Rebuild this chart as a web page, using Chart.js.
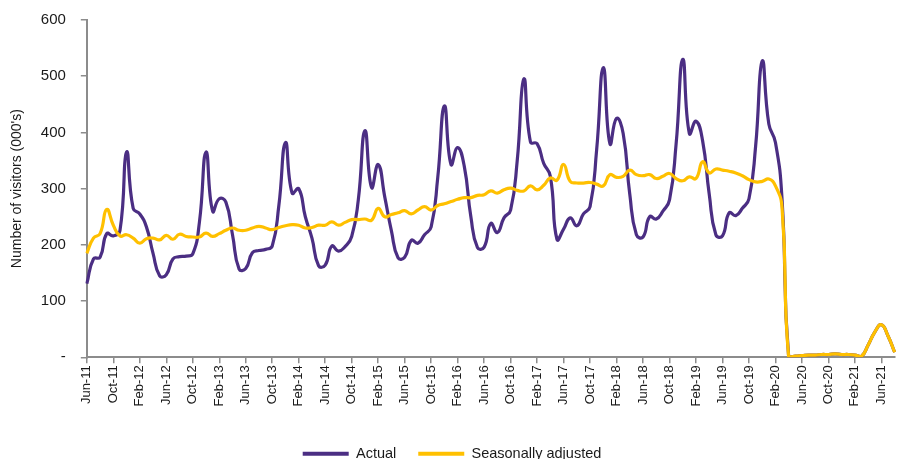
<!DOCTYPE html>
<html>
<head>
  <title>Visitors</title>
  <script src="https://cdn.jsdelivr.net/npm/chart.js"></script>
  <style>
    body { margin: 0; background: #fff; overflow: hidden; }
    #wrap { width: 899px; height: 475px; margin-top: -4px; }
  </style>
</head>
<body>
  <div id="wrap"><canvas id="myChart"></canvas></div>

  <script>
    // monthly labels Jun-11 .. Aug-21
    const monthNames = ['Jan', 'Feb', 'Mar', 'Apr', 'May', 'Jun', 'Jul', 'Aug', 'Sep', 'Oct', 'Nov', 'Dec'];
    const labels = [];
    for (let i = 0; i < 123; i++) {
      const m = (5 + i) % 12;
      const y = 11 + Math.floor((5 + i) / 12);
      labels.push(monthNames[m] + '-' + y);
    }

    // visitors, 000's
    const actual = [
      131, 175, 178, 220, 216, 225, 365, 265, 255, 232, 185, 145,
      147, 175, 179, 180, 184, 240, 365, 260, 282, 276, 218, 157,
      158, 186, 190, 192, 198, 270, 382, 292, 300, 250, 212, 163,
      164, 198, 189, 197, 215, 280, 403, 302, 343, 285, 225, 177,
      178, 208, 203, 218, 232, 320, 447, 343, 373, 340, 250, 195,
      196, 238, 222, 248, 262, 350, 495, 383, 380, 345, 322, 210,
      228, 248, 234, 255, 268, 370, 515, 380, 425, 398, 290, 218,
      214, 250, 246, 260, 280, 380, 530, 398, 420, 385, 290, 218,
      216, 257, 252, 265, 282, 375, 527, 415, 382, 280, 0, 2,
      3, 4, 4, 5, 5, 6, 5, 5, 4, 2, 22, 45,
      58, 38, 9
    ];
    const seasonallyAdjusted = [
      185, 212, 220, 263, 235, 216, 218, 212, 203, 211, 212, 209,
      217, 210, 219, 215, 214, 214, 221, 215, 220, 226, 230, 226,
      226, 230, 233, 230, 227, 231, 234, 236, 235, 230, 231, 235,
      235, 241, 235, 240, 245, 245, 246, 244, 265, 250, 254, 257,
      261, 255, 262, 268, 262, 270, 273, 277, 281, 284, 284, 288,
      289, 296, 292, 298, 301, 297, 296, 305, 298, 306, 319, 315,
      343, 313, 310, 310, 311, 308, 305, 325, 320, 322, 333, 325,
      323, 325, 318, 322, 327, 318, 314, 321, 318, 348, 328, 335,
      333, 331, 328, 323, 316, 312, 313, 317, 305, 265, 0, 2,
      3, 4, 4, 5, 5, 6, 5, 5, 4, 2, 22, 45,
      58, 38, 9
    ];
    const yTicks = [0, 100, 200, 300, 400, 500, 600];

    const purple = '#4b2e83';
    const gold = '#ffc000';
    const axisGrey = '#8c8c8c';

    Chart.defaults.font.family = '"Liberation Sans", Arial, sans-serif';
    Chart.defaults.font.size = 13;
    Chart.defaults.color = '#1a1a1a';

    const ctx = document.getElementById('myChart').getContext('2d');
    new Chart(ctx, {
      type: 'line',
      data: {
        labels,
        datasets: [{
          label: 'Actual',
          data: actual,
          borderColor: purple,
          backgroundColor: purple,
          borderWidth: 3.2,
          pointRadius: 0,
          tension: 0.5,
          order: 1
        }, {
          label: 'Seasonally adjusted',
          data: seasonallyAdjusted,
          borderColor: gold,
          backgroundColor: gold,
          borderWidth: 3.2,
          pointRadius: 0,
          tension: 0.5,
          order: 0
        }]
      },
      options: {
        responsive: true,
        maintainAspectRatio: false,
        animation: false,
        layout: { padding: { left: 5, right: 0, top: 12, bottom: 0 } },
        plugins: {
          legend: {
            position: 'bottom',
            labels: {
              boxWidth: 46,
              boxHeight: 4,
              padding: 22,
              font: { size: 14.5 },
              sort: (a, b) => a.datasetIndex - b.datasetIndex,
              generateLabels: chart => Chart.defaults.plugins.legend.labels.generateLabels(chart)
                .map(l => Object.assign(l, { lineWidth: 0 }))
            }
          },
          tooltip: { enabled: false }
        },
        scales: {
          x: {
            offset: false,
            border: { color: axisGrey, width: 2 },
            grid: { drawOnChartArea: false, drawTicks: true, tickLength: 6, color: axisGrey, lineWidth: 1.5 },
            ticks: {
              autoSkip: false,
              maxRotation: 90,
              minRotation: 90,
              padding: 2,
              callback: (v, i) => (i % 4 === 0 ? labels[i] : null)
            },
            afterFit: axis => { axis.height += 16; }
          },
          y: {
            min: 0,
            max: 600,
            afterBuildTicks: axis => { axis.ticks = yTicks.map(v => ({ value: v })); },
            border: { color: axisGrey, width: 2 },
            grid: { drawOnChartArea: false, drawTicks: true, tickLength: 6, color: axisGrey, lineWidth: 1.5 },
            ticks: {
              padding: 15,
              font: { size: 15 },
              callback: v => (v === 0 ? '-' : v)
            },
            title: {
              display: true,
              text: "Number of visitors (000's)",
              font: { size: 14 },
              padding: { bottom: 0 }
            }
          }
        }
      }
    });
  </script>
</body>
</html>
